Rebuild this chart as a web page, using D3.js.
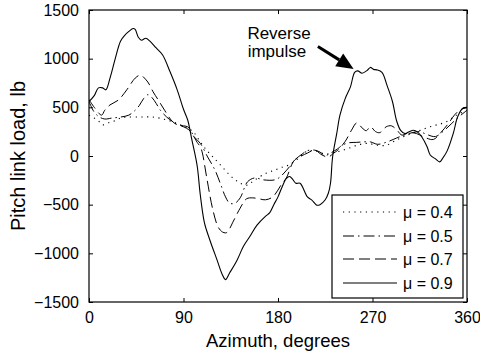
<!DOCTYPE html>
<html>
<head>
<meta charset="utf-8">
<script src="https://cdn.jsdelivr.net/npm/d3@7"></script>
<style>
  html, body { margin: 0; padding: 0; background: #fff; }
  svg { display: block; font-family: "Liberation Sans", Arial, Helvetica, sans-serif; }
</style>
</head>
<body>
<svg id="chart" width="480" height="358"></svg>
<script>
// ---------- data ----------
const xTicks = [0, 90, 180, 270, 360];
const yTicks = [-1500, -1000, -500, 0, 500, 1000, 1500];
const yTickLabels = ["\u22121500", "\u22121000", "\u2212500", "0", "500", "1000", "1500"];
const seriesNames = ["\u03bc = 0.4", "\u03bc = 0.5", "\u03bc = 0.7", "\u03bc = 0.9"];

const azimuth04 = [0,5,10,13,18,24,30,36,49,61,74,87,99,106,112,118,125,134,142,150,158,169,177,185,191,201,206,215,225,235,245,255,265,275,283,292,300,312,322,331,340,350,360];
const load04 = [420,390,350,320,340,360,390,400,400,400,370,320,250,145,60,-10,-90,-195,-265,-300,-245,-175,-145,-110,-90,-10,40,55,20,40,70,110,130,110,110,160,200,250,290,320,350,420,470];

const azimuth05 = [0,5,10,15,22,30,38,44,48,52,56,60,64,68,74,80,85,90,94,97,100,106,113,120,125,130,134,139,144,151,158,166,177,182,191,196,203,208,215,220,225,230,237,241,247,255,261,268,275,284,293,300,308,315,322,330,338,345,352,360];
const load05 = [560,450,400,380,390,400,420,470,520,590,630,600,540,470,400,350,320,310,300,260,200,130,-10,-145,-280,-420,-485,-485,-430,-265,-225,-245,-245,-215,-110,-40,20,55,60,40,5,30,75,110,135,140,145,145,120,145,185,215,240,250,220,200,260,330,400,470];

const azimuth07 = [0,5,12,15,20,28,36,44,49,56,61,66,72,79,84,90,95,99,103,106,108,112,118,123,127,130,132,137,144,150,156,162,168,175,184,188,193,196,208,215,222,228,233,237,244,250,255,260,264,268,273,277,283,288,293,298,305,312,320,328,335,342,348,353,360];
const load07 = [580,500,420,470,525,575,680,800,830,760,660,575,470,360,320,300,270,215,140,95,30,-215,-555,-730,-780,-790,-780,-680,-535,-440,-430,-440,-450,-420,-280,-225,-90,-40,30,60,10,-10,30,60,150,265,340,290,260,300,250,240,300,310,270,215,240,230,190,170,240,330,420,470,500];

const azimuth09 = [0,5,9,13,16,20,25,30,34,38,42,44,47,50,54,58,64,70,77,84,90,94,98,103,106,110,115,122,127,130,134,141,147,153,160,168,172,176,180,184,188,191,194,197,201,208,212,217,220,225,228,230,232,236,239,244,249,253,256,260,265,268,271,274,279,284,289,293,297,301,305,309,313,317,322,325,330,334,337,341,347,351,356,360];
const load09 = [560,620,700,700,680,800,1000,1180,1240,1280,1310,1300,1220,1190,1210,1180,1110,1040,870,680,480,370,165,-100,-400,-690,-860,-1070,-1220,-1270,-1200,-1070,-930,-830,-710,-620,-585,-500,-420,-315,-230,-210,-240,-280,-280,-420,-450,-505,-500,-450,-380,-280,-10,235,420,590,710,860,875,850,880,910,890,885,860,720,560,360,260,230,250,265,245,195,95,10,-30,-60,-20,50,235,400,490,500];

// ---------- layout ----------
const svg = d3.select("#chart");
const x = d3.scaleLinear().domain([0, 360]).range([89, 467]);
const y = d3.scaleLinear().domain([-1500, 1500]).range([302, 10]);

const styles = [
  { dash: "1.2,4.5", width: 1.1 },
  { dash: "11,4,1.5,4", width: 1 },
  { dash: "11,5", width: 1 },
  { dash: null, width: 1.1 }
];
const series = [
  { az: azimuth04, v: load04 },
  { az: azimuth05, v: load05 },
  { az: azimuth07, v: load07 },
  { az: azimuth09, v: load09 }
];

svg.append("defs").append("clipPath").attr("id", "clip")
  .append("rect").attr("x", 89).attr("y", 10).attr("width", 378).attr("height", 292);

const line = d3.line().x(d => x(d[0])).y(d => y(d[1])).curve(d3.curveCatmullRom.alpha(0.5));

const plot = svg.append("g").attr("clip-path", "url(#clip)");
series.forEach((s, i) => {
  const pts = s.az.map((a, k) => [a, s.v[k]]);
  plot.append("path")
    .attr("d", line(pts))
    .attr("fill", "none")
    .attr("stroke", "#000")
    .attr("stroke-width", styles[i].width)
    .attr("stroke-dasharray", styles[i].dash);
});

// ---------- axes ----------
const tickLen = 4;
const axB = svg.append("g").attr("transform", "translate(0,302)")
  .call(d3.axisBottom(x).tickValues(xTicks).tickSizeInner(-tickLen).tickSizeOuter(0).tickPadding(10).tickFormat(d3.format("d")));
const axT = svg.append("g").attr("transform", "translate(0,10)")
  .call(d3.axisTop(x).tickValues(xTicks).tickSizeInner(-tickLen).tickSizeOuter(0).tickFormat(""));
const axL = svg.append("g").attr("transform", "translate(89,0)")
  .call(d3.axisLeft(y).tickValues(yTicks).tickSizeInner(-tickLen).tickSizeOuter(0).tickPadding(10)
    .tickFormat((d, i) => yTickLabels[i]));
const axR = svg.append("g").attr("transform", "translate(467,0)")
  .call(d3.axisRight(y).tickValues(yTicks).tickSizeInner(-tickLen).tickSizeOuter(0).tickFormat(""));

[axB, axT, axL, axR].forEach(g => {
  g.select(".domain").remove();
  g.selectAll("line").attr("stroke", "#000").attr("stroke-width", 1);
  g.selectAll("text").attr("fill", "#000").style("font-size", "16px")
    .style("font-family", "'Liberation Sans', Arial, Helvetica, sans-serif");
});

svg.append("rect").attr("x", 89).attr("y", 10).attr("width", 378).attr("height", 292)
  .attr("fill", "none").attr("stroke", "#000").attr("stroke-width", 1.2);

// axis labels
svg.append("text").attr("x", 278).attr("y", 347).attr("text-anchor", "middle")
  .style("font-size", "18.5px").text("Azimuth, degrees");
svg.append("text").attr("transform", "translate(25,156) rotate(-90)").attr("text-anchor", "middle")
  .style("font-size", "20px").text("Pitch link load, lb");

// ---------- annotation ----------
const ann = svg.append("g");
ann.append("text").attr("x", x(181)).attr("y", y(1200)).attr("text-anchor", "middle")
  .style("font-size", "17px").text("Reverse");
ann.append("text").attr("x", x(179)).attr("y", y(1015)).attr("text-anchor", "middle")
  .style("font-size", "17px").text("impulse");
const tip = [x(252), y(895)];
const tail = [x(218), y(1125)];
const ang = Math.atan2(tip[1] - tail[1], tip[0] - tail[0]);
const headL = 17, headW = 7.5;
const base = [tip[0] - headL * Math.cos(ang), tip[1] - headL * Math.sin(ang)];
ann.append("line").attr("x1", tail[0]).attr("y1", tail[1]).attr("x2", base[0]).attr("y2", base[1])
  .attr("stroke", "#000").attr("stroke-width", 3);
ann.append("path").attr("d", d3.line()([
  tip,
  [base[0] + headW * Math.sin(ang), base[1] - headW * Math.cos(ang)],
  [base[0] - headW * Math.sin(ang), base[1] + headW * Math.cos(ang)]
]) + "Z").attr("fill", "#000");

// ---------- legend ----------
const lg = svg.append("g");
lg.append("rect").attr("x", 332).attr("y", 195).attr("width", 131).attr("height", 103)
  .attr("fill", "#fff").attr("stroke", "#000").attr("stroke-width", 1.2);
const rowY = [212, 236, 259, 283];
seriesNames.forEach((name, i) => {
  lg.append("line").attr("x1", 343).attr("x2", 397).attr("y1", rowY[i]).attr("y2", rowY[i])
    .attr("stroke", "#000").attr("stroke-width", styles[i].width)
    .attr("stroke-dasharray", styles[i].dash);
  lg.append("text").attr("x", 403).attr("y", rowY[i] + 6).style("font-size", "16px").text(name);
});
</script>
</body>
</html>
